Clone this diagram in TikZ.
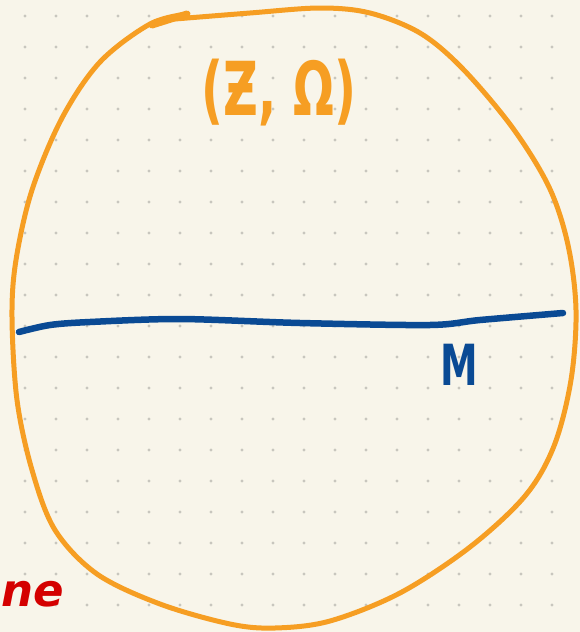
\documentclass[tikz,border=0pt]{standalone}
\usepackage{fontspec}
\setmainfont{DejaVu Sans}
\definecolor{paper}{RGB}{248,245,234}
\definecolor{griddot}{RGB}{200,198,190}
\definecolor{penorange}{RGB}{246,158,35}
\definecolor{penblue}{RGB}{10,74,148}
\definecolor{penred}{RGB}{212,0,0}
\tikzset{
  blobline/.style={draw=penorange, line width=5pt, line cap=round, line join=round},
  manifold/.style={draw=penblue, line width=6.5pt, line cap=round, line join=round},
  handtext/.style={inner sep=0pt},
}
\begin{document}
\begin{tikzpicture}[x=1pt,y=-1pt]
\useasboundingbox (0,0) rectangle (580,632);
\clip (0,0) rectangle (580,632);
\fill[paper] (0,0) rectangle (580,632);
% dot grid
\foreach \i in {0,...,17}{
  \foreach \j in {0,...,19}{
    \fill[griddot] (25+31*\i,16+31*\j) circle (1.6pt);
  }
}
% orange blob
\draw[blobline] plot[smooth, tension=0.55] coordinates {
 (187,14) (150,24) (100,62) (62,118) (32,190) (16,260) (12,317) (17,400)
 (32,470) (55,530) (97,574) (160,604) (230,624) (275,628) (330,621)
 (400,593) (470,547) (525,496) (554,446) (571,380) (576,310) (568,245)
 (549,187) (512,127) (462,68) (420,33) (370,13) (320,8) (250,13) (175,19)};
\draw[blobline, line width=7pt] (152,25) -- (187,14);
% blue line M
\draw[manifold] plot[smooth, tension=0.5] coordinates {
 (19,332) (50,325) (90,322) (180,319) (300,323) (430,325) (480,320) (563,313)};
% labels
\node[handtext, text=penorange, font=\fontsize{48}{56}\selectfont\bfseries, yscale=1.55] (pair) at (279,93) {(Ƶ, Ω)};
\node[handtext, text=penblue, font=\fontsize{54}{60}\selectfont\bfseries, xscale=0.7, yscale=1.05] (mlabel) at (459,365) {M};
\node[handtext, text=penred, font=\fontsize{45}{54}\selectfont\bfseries\itshape, anchor=base west] (tail) at (1,606) {ne};
\end{tikzpicture}
\end{document}
